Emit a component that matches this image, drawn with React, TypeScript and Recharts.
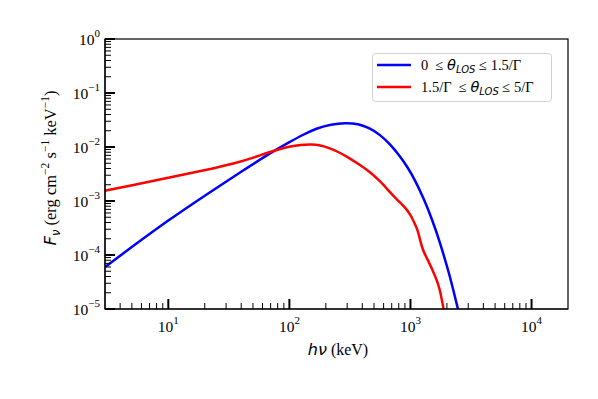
import React from 'react';
import { LineChart, Line, XAxis, YAxis } from 'recharts';

// photon energy (keV) and flux
const blueEnergy = [3, 5, 10, 20, 40, 70, 100, 130, 170, 220, 290, 370, 460, 560, 680, 800, 950, 1100, 1300, 1500, 1700, 1900, 2100, 2300, 2500, 2700];
const blueFlux = [6.0e-5, 1.41e-4, 4.4e-4, 1.26e-3, 3.5e-3, 7.8e-3, 0.0123, 0.0170, 0.0224, 0.0263, 0.0282, 0.0269, 0.0224, 0.0170, 0.0112, 7.2e-3, 4.2e-3, 2.35e-3, 1.05e-3, 4.7e-4, 2.1e-4, 9.3e-5, 4.3e-5, 1.9e-5, 8.9e-6, 4.3e-6];

const redEnergy = [3, 5, 10, 20, 37, 50, 77, 100, 125, 150, 180, 215, 260, 314, 380, 459, 560, 672, 760, 893, 1000, 1079, 1149, 1200, 1263, 1370, 1480, 1600, 1734, 1883, 1950];
const redFlux = [1.55e-3, 1.95e-3, 2.7e-3, 3.7e-3, 5.1e-3, 6.3e-3, 8.8e-3, 0.0102, 0.0110, 0.0112, 0.0108, 9.5e-3, 7.9e-3, 6.2e-3, 4.7e-3, 3.5e-3, 2.35e-3, 1.48e-3, 1.1e-3, 7.9e-4, 5.6e-4, 3.9e-4, 2.9e-4, 1.9e-4, 1.23e-4, 8.7e-5, 6.0e-5, 4.0e-5, 2.6e-5, 9.6e-6, 6.3e-6];

const xMajor = [10, 100, 1000, 10000];
const xMinor = [4, 5, 6, 7, 8, 9, 20, 30, 40, 50, 60, 70, 80, 90, 200, 300, 400, 500, 600, 700, 800, 900, 2000, 3000, 4000, 5000, 6000, 7000, 8000, 9000];
const yMajor = [1e-5, 1e-4, 1e-3, 1e-2, 1e-1, 1];
const yMinorFactors = [2, 3, 4, 5, 6, 7, 8, 9];

const blueData = blueEnergy.map((x, i) => ({ x, y: blueFlux[i] }));
const redData = redEnergy.map((x, i) => ({ x, y: redFlux[i] }));
const yMinor = yMajor.slice(0, 5).flatMap((d) => yMinorFactors.map((f) => f * d));

const serif = '"Liberation Serif", "Times New Roman", serif';
const mathFont = '"DejaVu Sans", sans-serif';
const sp = '\u00a0';

const isMajor = (v: number, majors: number[]) => majors.some((m) => Math.abs(v / m - 1) < 1e-6);
const expOf = (v: number) => {
  const e = Math.round(Math.log10(v));
  return e < 0 ? `\u2212${-e}` : `${e}`;
};

const XTick = (props: any) => {
  const { x, y, payload } = props;
  const major = isMajor(payload.value, xMajor);
  return (
    <g>
      <line x1={x} x2={x} y1={y} y2={y - (major ? 10 : 6)} stroke="#000" strokeWidth={major ? 2 : 1} />
      {major && (
        <text x={x} y={y + 23} textAnchor="middle" fontFamily={serif} fontSize={15.5} fill="#000">
          10<tspan dy={-8} fontSize={11}>{expOf(payload.value)}</tspan>
        </text>
      )}
    </g>
  );
};

const YTick = (props: any) => {
  const { x, y, payload } = props;
  const major = isMajor(payload.value, yMajor);
  return (
    <g>
      <line x1={x} x2={x + (major ? 10 : 6)} y1={y} y2={y} stroke="#000" strokeWidth={major ? 2 : 1} />
      {major && (
        <text x={x - 5} y={y + 6} textAnchor="end" fontFamily={serif} fontSize={15.5} fill="#000">
          10<tspan dy={-8} fontSize={11}>{expOf(payload.value)}</tspan>
        </text>
      )}
    </g>
  );
};

const Overlay = () => (
  <svg width={598} height={399} style={{ position: 'absolute', left: 0, top: 0, pointerEvents: 'none' }}>
    {/* plot frame */}
    <rect x={105} y={39} width={463} height={270} fill="none" stroke="#000" strokeWidth={1.2} />
    {/* x axis title */}
    <text x={338} y={355} textAnchor="middle" fontSize={16} fill="#000">
      <tspan fontFamily={mathFont} fontStyle="italic">hν</tspan>
      <tspan fontFamily={serif}> (keV)</tspan>
    </text>
    {/* y axis title */}
    <text x={56} y={168} transform="rotate(-90 56 168)" textAnchor="middle" fontSize={16.5} fill="#000" fontFamily={serif}>
      <tspan fontFamily={mathFont} fontStyle="italic">F</tspan>
      <tspan fontFamily={mathFont} fontStyle="italic" fontSize={11.5} dy={4}>ν</tspan>
      <tspan dy={-4}>{sp}(erg{sp}cm</tspan>
      <tspan fontSize={11.5} dy={-7}>−2</tspan>
      <tspan dy={7}>{sp}s</tspan>
      <tspan fontSize={11.5} dy={-7}>−1</tspan>
      <tspan dy={7}>{sp}keV</tspan>
      <tspan fontSize={11.5} dy={-7}>−1</tspan>
      <tspan dy={7}>)</tspan>
    </text>
    {/* legend */}
    <rect x={372.5} y={53.5} width={179} height={48} rx={3} fill="#fff" fillOpacity={0.8} stroke="#d0d0d0" />
    <line x1={377} x2={411} y1={65} y2={65} stroke="#0000ff" strokeWidth={2.5} />
    <line x1={377} x2={411} y1={87} y2={87} stroke="#ff0000" strokeWidth={2.5} />
    <text x={421} y={70} fontFamily={serif} fontSize={14.5} fill="#000">
      {`0${sp}${sp}≤${sp}`}<tspan fontFamily={mathFont} fontStyle="italic">θ</tspan>
      <tspan fontFamily={mathFont} fontStyle="italic" fontSize={10} dy={3}>LOS</tspan>
      <tspan dy={-3}>{`${sp}≤${sp}1.5/Γ`}</tspan>
    </text>
    <text x={421} y={92} fontFamily={serif} fontSize={14.5} fill="#000">
      {`1.5/Γ${sp}${sp}≤${sp}`}<tspan fontFamily={mathFont} fontStyle="italic">θ</tspan>
      <tspan fontFamily={mathFont} fontStyle="italic" fontSize={10} dy={3}>LOS</tspan>
      <tspan dy={-3}>{`${sp}≤${sp}5/Γ`}</tspan>
    </text>
  </svg>
);

export default function App() {
  return (
    <div style={{ position: 'absolute', left: 0, top: 0, width: 598, height: 399, background: '#fff' }}>
      <LineChart width={598} height={399} margin={{ top: 39, right: 30, bottom: 0, left: 0 }}>
        <XAxis
          dataKey="x"
          type="number"
          scale="log"
          domain={[3, 20000]}
          allowDataOverflow
          ticks={[...xMajor, ...xMinor]}
          interval={0}
          height={90}
          tickSize={0}
          tickMargin={0}
          tickLine={false}
          tick={<XTick />}
          axisLine={{ stroke: '#000', strokeWidth: 1.2 }}
        />
        <YAxis
          type="number"
          scale="log"
          domain={[1e-5, 1]}
          allowDataOverflow
          ticks={[...yMajor, ...yMinor]}
          interval={0}
          width={105}
          tickSize={0}
          tickMargin={0}
          tickLine={false}
          tick={<YTick />}
          axisLine={{ stroke: '#000', strokeWidth: 1.2 }}
        />
        <Line data={blueData} dataKey="y" type="basis" stroke="#0000ff" strokeWidth={2.5} dot={false} isAnimationActive={false} />
        <Line data={redData} dataKey="y" type="basis" stroke="#ff0000" strokeWidth={2.5} dot={false} isAnimationActive={false} />
      </LineChart>
      <Overlay />
    </div>
  );
}
